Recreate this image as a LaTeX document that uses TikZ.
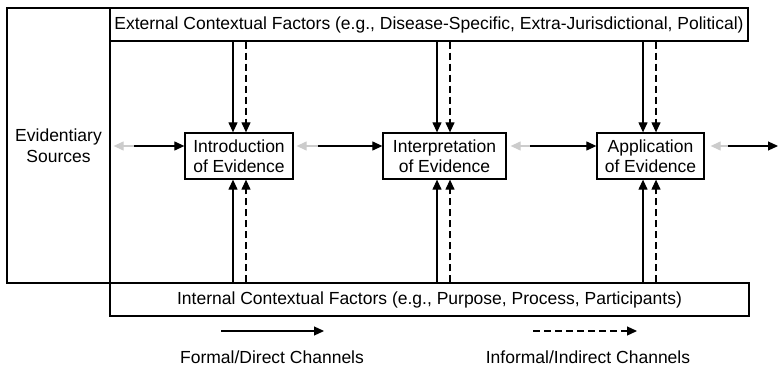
\documentclass[tikz,border=0pt]{standalone}
\usepackage{fontspec}
\setmainfont{Liberation Sans}
\usetikzlibrary{arrows.meta}

\begin{document}
\begin{tikzpicture}[x=1pt, y=-1pt,
font=\fontsize{17.5}{20.5}\selectfont,
box/.style = {draw, line width=1.3pt, inner sep=0pt, align=center},
formal/.style = {line width=1.2pt, -{Triangle[length=10pt,width=9pt]}},
informal/.style = {formal, dash pattern=on 7pt off 4pt},
back/.style = {formal, black!20}]
\useasboundingbox (0,0) rectangle (778,366);
% frames
\node[box, minimum width=103, minimum height=275] (evid) at (58.5,145.5) {Evidentiary\\Sources};
\node[box, minimum width=638, minimum height=33] (ext) at (429,24.5)
    {External Contextual Factors (e.g., Disease-Specific, Extra-Jurisdictional, Political)};
\node[box, minimum width=639, minimum height=33] (intl) at (429.5,299.5)
    {Internal Contextual Factors (e.g., Purpose, Process, Participants)};
% stages
\node[box, minimum width=108, minimum height=46] (intro) at (239,156) {Introduction\\of Evidence};
\node[box, minimum width=123, minimum height=46] (interp) at (444.5,156) {Interpretation\\of Evidence};
\node[box, minimum width=107, minimum height=46] (appl) at (650.5,156) {Application\\of Evidence};
% flow between stages
\coordinate (s0) at (134,146);
\coordinate (s1) at (318,146);
\coordinate (s2) at (530,146);
\coordinate (s3) at (728,146);
\coordinate (out) at (778,146);
\draw[back, shorten >=3pt] (s0) -- (evid.east |- s0);
\draw[formal] (s0) -- (intro.west |- s0);
\draw[back, shorten >=3pt] (s1) -- (intro.east |- s1);
\draw[formal] (s1) -- (interp.west |- s1);
\draw[back, shorten >=4pt] (s2) -- (interp.east |- s2);
\draw[formal] (s2) -- (appl.west |- s2);
\draw[back, shorten >=6pt] (s3) -- (appl.east |- s3);
\draw[formal] (s3) -- (out);
% external factors
\draw[formal] ([xshift=-6pt]intro.north |- ext.south) -- ([xshift=-6pt]intro.north);
\draw[informal] ([xshift=7pt]intro.north |- ext.south) -- ([xshift=7pt]intro.north);
\draw[formal] ([xshift=-7.5pt]interp.north |- ext.south) -- ([xshift=-7.5pt]interp.north);
\draw[informal] ([xshift=5.5pt]interp.north |- ext.south) -- ([xshift=5.5pt]interp.north);
\draw[formal] ([xshift=-7.5pt]appl.north |- ext.south) -- ([xshift=-7.5pt]appl.north);
\draw[informal] ([xshift=5.5pt]appl.north |- ext.south) -- ([xshift=5.5pt]appl.north);
% internal factors
\draw[formal] ([xshift=-6pt]intro.south |- intl.north) -- ([xshift=-6pt]intro.south);
\draw[informal] ([xshift=7pt]intro.south |- intl.north) -- ([xshift=7pt]intro.south);
\draw[formal] ([xshift=-7.5pt]interp.south |- intl.north) -- ([xshift=-7.5pt]interp.south);
\draw[informal] ([xshift=5.5pt]interp.south |- intl.north) -- ([xshift=5.5pt]interp.south);
\draw[formal] ([xshift=-7.5pt]appl.south |- intl.north) -- ([xshift=-7.5pt]appl.south);
\draw[informal] ([xshift=5.5pt]appl.south |- intl.north) -- ([xshift=5.5pt]appl.south);
% legend
\coordinate (f0) at (221,331);
\coordinate (f1) at (324,331);
\coordinate (i0) at (533,331);
\coordinate (i1) at (637,331);
\draw[formal] (f0) -- (f1);
\draw[informal] (i0) -- (i1);
\node[inner sep=0pt] (formallbl) at (272,357) {Formal/Direct Channels};
\node[inner sep=0pt] (informallbl) at (588,357) {Informal/Indirect Channels};
\end{tikzpicture}
\end{document}
